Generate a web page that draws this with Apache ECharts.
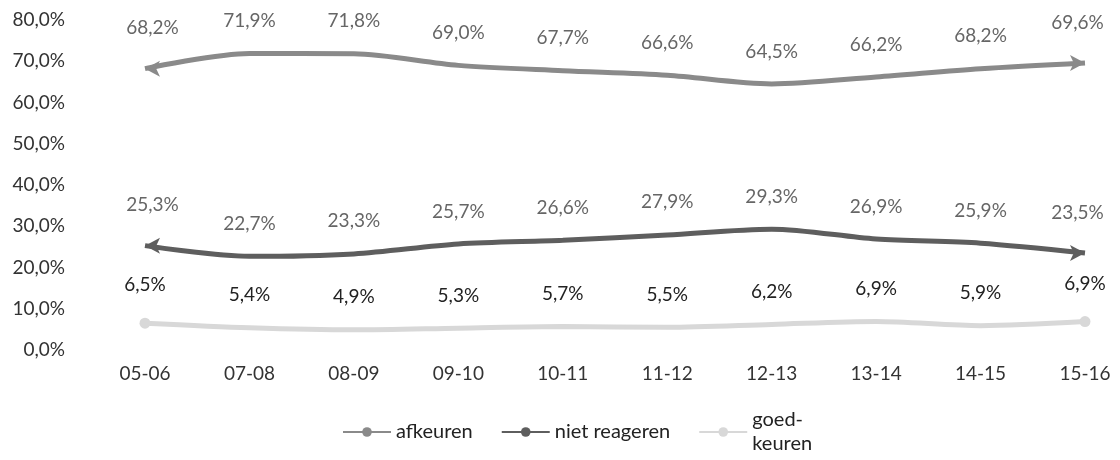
<!DOCTYPE html>
<html>
<head>
<meta charset="utf-8">
<script src="https://cdn.jsdelivr.net/npm/echarts@6/dist/echarts.min.js"></script>
<style>
  html, body { margin: 0; padding: 0; background: #fff; }
  #chart { width: 1120px; height: 460px; }
</style>
</head>
<body>
<div id="chart"></div>
<script>
var categories = ['05-06', '07-08', '08-09', '09-10', '10-11', '11-12', '12-13', '13-14', '14-15', '15-16'];
var afkeuren = [68.2, 71.9, 71.8, 69.0, 67.7, 66.6, 64.5, 66.2, 68.2, 69.6];
var nietReageren = [25.3, 22.7, 23.3, 25.7, 26.6, 27.9, 29.3, 26.9, 25.9, 23.5];
var goedkeuren = [6.5, 5.4, 4.9, 5.3, 5.7, 5.5, 6.2, 6.9, 5.9, 6.9];

var fontName = 'Lato';
var pct = function (v) { return v.toFixed(1).replace('.', ',') + '%'; };

// arrow heads (or dots) on the first and last point, nothing visible in between
var ends = function (arr, withArrows) {
    return arr.map(function (v, i) {
        var last = i === arr.length - 1;
        if (i !== 0 && !last) return v;
        if (!withArrows) return { value: v, symbol: 'circle', symbolSize: 11 };
        return { value: v, symbol: 'arrow', symbolSize: [12, 15], symbolRotate: last ? -90 : 90 };
    });
};

var mkSeries = function (name, arr, color, labelColor, arrows) {
    return {
        name: name,
        type: 'line',
        smooth: 0.3,
        data: ends(arr, arrows),
        symbol: 'circle',
        symbolSize: 0.1,
        showSymbol: true,
        lineStyle: { color: color, width: 5 },
        itemStyle: { color: color },
        label: {
            show: true,
            position: 'top',
            distance: 23,
            color: labelColor,
            fontFamily: fontName,
            fontSize: 19,
            formatter: function (p) { return pct(p.value); }
        }
    };
};

var chart = echarts.init(document.getElementById('chart'));
var option = {
    animation: false,
    grid: { left: 145, right: 35, top: 20, bottom: 110 },
    xAxis: {
        type: 'category',
        data: categories,
        boundaryGap: false,
        axisLine: { show: false },
        axisTick: { show: false },
        axisLabel: { color: '#333', fontFamily: fontName, fontSize: 19, margin: 14 }
    },
    yAxis: {
        type: 'value',
        min: 0,
        max: 80,
        interval: 10,
        splitLine: { show: false },
        axisLabel: { color: '#333', fontFamily: fontName, fontSize: 19, margin: 80, formatter: pct }
    },
    legend: {
        top: 403,
        left: 337,
        itemWidth: 48,
        itemHeight: 12,
        itemGap: 28,
        textStyle: { color: '#222', fontFamily: fontName, fontSize: 20, lineHeight: 24 },
        formatter: function (n) { return n === 'goedkeuren' ? 'goed-\nkeuren' : n; },
        data: ['afkeuren', 'niet reageren', 'goedkeuren']
    },
    series: [
        mkSeries('afkeuren', afkeuren, '#8a8a8a', '#666', true),
        mkSeries('niet reageren', nietReageren, '#5e5e5e', '#666', true),
        mkSeries('goedkeuren', goedkeuren, '#d8d8d8', '#222', false)
    ]
};
chart.setOption(option);
</script>
</body>
</html>
